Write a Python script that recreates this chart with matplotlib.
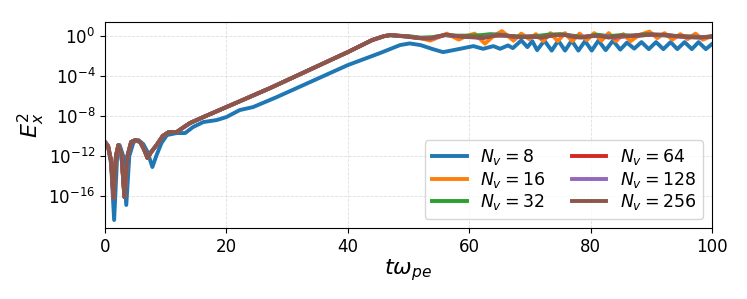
import numpy as np
import matplotlib
matplotlib.use("Agg")
import matplotlib.pyplot as plt

# log10(E_x^2), linear phase is shared by Nv >= 16
t_lin = [0, 0.5, 1.0, 1.4, 1.8, 2.2, 2.7, 3.2, 3.7, 4.3, 5.0, 5.8, 6.4, 7.0, 7.6,
         8.5, 9.5, 10.5, 11.8, 13.0, 14.0, 16.2, 20, 27.2, 40, 44, 46, 47]
e_lin = [-10.6, -11.0, -12.5, -16.2, -12.0, -10.9, -11.8, -16.1, -12.0, -10.6, -10.4,
         -10.6, -11.3, -12.2, -11.6, -10.9, -10.0, -9.6, -9.6, -9.1, -8.7, -8.1, -7.1,
         -5.2, -1.6, -0.4, 0.0, 0.1]

t_8 = [0, 0.5, 1.0, 1.5, 2.0, 2.4, 3.0, 3.5, 4.0, 4.7, 5.5, 6.3, 7.0, 7.8, 8.5, 9.3,
       10.2, 11.8, 13.2, 14.5, 16.2, 18.4, 20, 22.2, 24.4, 28.3, 40, 45.3, 48.6, 50.2,
       52, 54, 55.7, 57, 58.5, 60.7, 62.3, 64, 65.1, 66.4, 67.2, 68.6, 69.6, 70.4,
       71.2, 72.4, 73.6, 74.7, 75.8, 76.9, 78.0, 79.1, 80.2, 81.3, 82.5, 83.7, 84.9,
       86.0, 87.2, 88.4, 89.6, 90.8, 92.0, 93.2, 94.3, 95.5, 96.7, 97.8, 99.0, 100]
e_8 = [-10.6, -11.0, -12.8, -18.4, -12.0, -10.9, -12.0, -16.9, -12.0, -10.6, -10.4,
       -10.8, -11.6, -13.1, -11.9, -10.7, -9.9, -9.7, -9.7, -9.1, -8.6, -8.4, -8.1,
       -7.4, -7.1, -6.1, -2.9, -1.7, -0.9, -0.73, -0.9, -1.3, -1.6, -1.45, -1.27,
       -1.0, -1.27, -1.0, -1.27, -0.93, -1.2, -0.43, -1.1, -0.5, -1.4, -0.45, -1.45,
       -0.45, -1.45, -0.45, -1.45, -0.5, -1.45, -0.45, -1.4, -0.45, -1.35, -0.65,
       -1.25, -0.6, -1.3, -0.6, -1.3, -0.6, -1.3, -0.6, -1.3, -0.6, -1.3, -0.8]

t_16 = [48, 50, 52, 53.6, 55, 56.3, 58.3, 59.5, 60.9, 62.6, 64, 65.4, 67.3, 68.6,
        69.9, 71.0, 72.2, 73.4, 74.6, 75.8, 77.0, 78.2, 79.4, 80.6, 81.8, 83.0, 84.2,
        85.4, 86.6, 88, 89.7, 91, 92.2, 93.5, 94.8, 96, 97.3, 98.5, 100]
e_16 = [0.05, -0.05, -0.2, -0.45, -0.1, 0.25, -0.35, 0.0, 0.25, -0.75, 0.0, 0.5,
        -0.45, 0.25, -0.3, 0.2, -0.5, 0.3, -0.5, 0.3, -0.5, 0.25, -0.4, 0.3, -0.45,
        0.3, -0.5, 0.2, -0.5, 0.1, 0.45, -0.2, 0.3, -0.35, 0.2, -0.3, 0.25, -0.35, 0.0]

t_32 = [48, 50, 52, 54, 56, 58, 60, 62, 63.5, 65, 67, 69, 71, 73, 75, 77, 79, 81,
        83, 85, 87, 89, 91, 93, 95, 97, 99, 100]
e_32 = [0.05, 0.0, -0.15, -0.1, 0.1, 0.05, 0.05, 0.1, 0.2, 0.15, 0.0, -0.05, 0.0,
        0.15, 0.2, 0.05, -0.1, 0.15, 0.0, 0.1, 0.05, 0.2, 0.1, 0.05, 0.0, -0.05,
        -0.1, 0.0]

t_64 = [48, 50, 52, 54, 56, 58, 60, 62, 64, 66, 68, 70, 72, 74, 76, 78, 80, 82, 84,
        86, 88, 90, 92, 94, 96, 98, 100]
e_64 = [0.05, -0.05, -0.2, -0.2, 0.1, 0.0, -0.05, -0.15, 0.05, 0.05, -0.1, -0.05,
        -0.1, 0.1, 0.1, -0.1, 0.0, 0.0, -0.15, 0.0, 0.1, 0.15, 0.1, 0.0, -0.05,
        -0.1, -0.05]

t_128 = [48, 50, 52, 54, 56, 58, 60, 62, 64, 66, 68, 70, 72, 74, 76, 78, 80, 82, 84,
         86, 88, 90, 92, 94, 96, 98, 100]
e_128 = [0.05, -0.05, -0.2, -0.22, 0.12, 0.0, -0.1, -0.18, 0.08, 0.05, -0.1, -0.05,
         -0.12, 0.1, 0.12, -0.12, 0.0, 0.02, -0.12, 0.02, 0.05, 0.15, 0.12, 0.0,
         -0.1, -0.12, -0.05]

t_256 = [48, 49.7, 51.5, 53.5, 55, 56.3, 58, 59.6, 61, 62.3, 63.8, 65.1, 66.8, 68.8,
         70.5, 72, 74, 75.5, 77, 78.5, 80, 81.5, 83, 85, 86.5, 88, 90, 92, 94, 96,
         98, 100]
e_256 = [0.05, -0.05, -0.2, -0.25, 0.0, 0.15, 0.0, -0.1, -0.1, -0.2, 0.0, 0.13, 0.0,
         -0.1, -0.05, -0.15, 0.1, 0.15, -0.05, -0.15, 0.0, 0.05, -0.15, 0.05, 0.0,
         0.05, 0.15, 0.15, 0.0, -0.1, -0.15, -0.05]

labels = [8, 16, 32, 64, 128, 256]
late = [(t_16, e_16), (t_32, e_32), (t_64, e_64), (t_128, e_128), (t_256, e_256)]

fig = plt.figure(figsize=(7.47, 2.99), dpi=100)
ax = fig.add_axes([0.1406, 0.2375, 0.8124, 0.6885])

ax.plot(t_8, 10.0 ** np.array(e_8), lw=2.8, label=r"$N_v = 8$")
for nv, (tl, el) in zip(labels[1:], late):
    t = t_lin + tl
    e = np.array(e_lin + el)
    ax.plot(t, 10.0 ** e, lw=2.8, label=r"$N_v = %d$" % nv)

ax.set_yscale("log")
ax.set_xlim(0, 100)
ax.set_ylim(10 ** -19.2, 10 ** 1.4)
ax.set_yticks([1e0, 1e-4, 1e-8, 1e-12, 1e-16])
ax.yaxis.set_minor_locator(matplotlib.ticker.NullLocator())
ax.set_xticks([0, 20, 40, 60, 80, 100])
ax.tick_params(labelsize=12)
ax.grid(True, ls="--", lw=0.6, color="#d8d8d8", alpha=0.8)
ax.set_xlabel(r"$t\omega_{pe}$", fontsize=16, labelpad=1)
ax.set_ylabel(r"$E_x^2$", fontsize=16, labelpad=1)
ax.legend(ncol=2, fontsize=12.5, loc="lower right", handlelength=2.0,
          columnspacing=1.5, labelspacing=0.15)

fig.savefig("out.png", dpi=100)
